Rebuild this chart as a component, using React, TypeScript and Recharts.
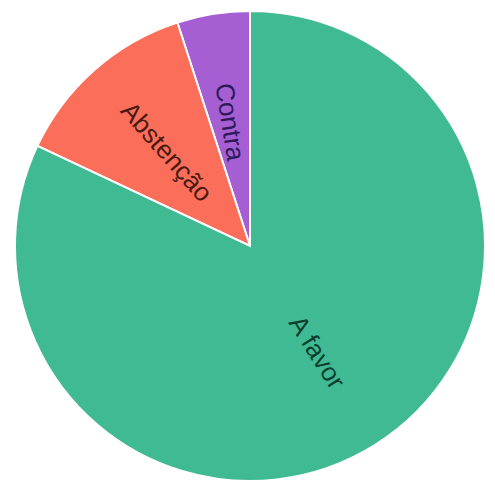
import React from "react";
import { PieChart, Pie, Cell } from "recharts";

const categories = ["Contra", "Abstenção", "A favor"];
const values = [5, 13, 82];
const sliceColors = ["#a55fd2", "#fa6e5a", "#40ba93"];
const textColors = ["#2e1a5a", "#4a1a12", "#0c3f30"];

const data = categories.map((name, i) => ({ name, value: values[i] }));

const RADIAN = Math.PI / 180;

const renderLabel = (props: any) => {
  const { cx, cy, midAngle, outerRadius, index, name } = props;
  const r = outerRadius * 0.535;
  const x = cx + r * Math.cos(-midAngle * RADIAN);
  const y = cy + r * Math.sin(-midAngle * RADIAN);
  let rot = -midAngle;
  while (rot <= -90) rot += 180;
  while (rot > 90) rot -= 180;
  return (
    <text
      x={x}
      y={y}
      fill={textColors[index]}
      textAnchor="middle"
      dominantBaseline="central"
      fontSize={26}
      fontFamily="'Liberation Sans', Arial, sans-serif"
      transform={`rotate(${rot}, ${x}, ${y})`}
    >
      {name}
    </text>
  );
};

export default function App() {
  return (
    <PieChart width={487} height={473} margin={{ top: 0, right: 0, bottom: 0, left: 0 }}>
      <Pie
        data={data}
        dataKey="value"
        nameKey="name"
        cx={242}
        cy={238}
        outerRadius={235}
        startAngle={90}
        endAngle={450}
        stroke="#ffffff"
        strokeWidth={2}
        label={renderLabel}
        labelLine={false}
        isAnimationActive={false}
      >
        {data.map((d, i) => (
          <Cell key={d.name} fill={sliceColors[i]} />
        ))}
      </Pie>
    </PieChart>
  );
}
